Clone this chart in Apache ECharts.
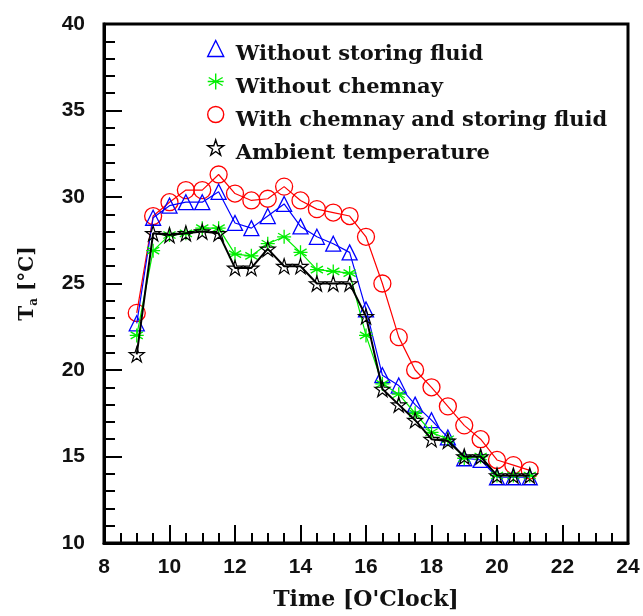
<!DOCTYPE html>
<html>
<head>
<meta charset="utf-8">
<script src="https://cdn.jsdelivr.net/npm/echarts@6/dist/echarts.min.js"></script>
<style>html,body{margin:0;padding:0;background:#fff}#c{width:643px;height:616px}</style>
</head>
<body>
<div id="c"></div>
<script>
const times = [9,9.5,10,10.5,11,11.5,12,12.5,13,13.5,14,14.5,15,15.5,16,16.5,17,17.5,18,18.5,19,19.5,20,20.5,21];
const withoutStoring = [22.7,28.8,29.5,29.7,29.7,30.3,28.5,28.2,28.9,29.6,28.3,27.7,27.3,26.8,23.5,19.7,19.1,18.0,17.1,16.1,14.9,14.8,13.8,13.8,13.8];
const withoutChemnay = [22.0,26.9,27.8,27.9,28.2,28.2,26.7,26.6,27.3,27.7,26.8,25.8,25.7,25.6,22.0,19.2,18.6,17.5,16.4,16.0,14.9,15.0,13.9,13.9,13.9];
const withBoth = [23.3,28.9,29.7,30.4,30.4,31.3,30.2,29.8,29.9,30.6,29.8,29.3,29.1,28.9,27.7,25.0,21.9,20.0,19.0,17.9,16.8,16.0,14.8,14.5,14.2];
const ambient = [20.9,27.9,27.8,27.9,28.0,27.9,25.9,25.9,27.0,26.0,26.0,25.0,25.0,25.0,23.1,18.9,18.0,17.1,16.0,15.9,15.0,15.0,13.9,13.9,13.9];
const xTicks = [8,10,12,14,16,18,20,22,24];
const yTicks = [10,15,20,25,30,35,40];
const names = ['Without storing fluid','Without chemnay','With chemnay and storing fluid','Ambient temperature'];

const pairs = arr => times.map((t,i)=>[t,arr[i]]);
const starPath = 'path://M0,-1L0.2233,-0.3074L0.9511,-0.309L0.3614,0.1174L0.5878,0.809L0,0.38L-0.5878,0.809L-0.3614,0.1174L-0.9511,-0.309L-0.2233,-0.3074Z';
const asterPath = 'path://M0,-1L0,1M-0.87,-0.5L0.87,0.5M-0.87,0.5L0.87,-0.5M-1,0L1,0';
const serif = '"DejaVu Serif", serif';
const sans = '"Liberation Sans", Arial, sans-serif';

const chart = echarts.init(document.getElementById('c'));
function mk(name, data, color, symbol, size, lw, bw, z){
  return {
    name, type:'line', data: pairs(data), symbol, symbolSize:size, z,
    lineStyle:{color, width:lw},
    itemStyle:{color:'rgba(0,0,0,0)', borderColor:color, borderWidth:bw},
    emphasis:{disabled:true}, animation:false
  };
}
chart.setOption({
  animation:false,
  grid:{left:104,right:15,top:24,bottom:69,show:true,borderColor:'#000',borderWidth:3,backgroundColor:'#fff'},
  legend:{
    orient:'vertical', left:202, top:27, itemWidth:16, itemHeight:16, itemGap:0,
    formatter: n => '{t|' + n + '}',
    textStyle:{fontFamily:serif, fontWeight:'bold', fontSize:21, color:'#111',
      rich:{t:{fontFamily:serif, fontWeight:'bold', fontSize:21, lineHeight:20, color:'#111', padding:[12,0,0,7]}}},
    data:[
      {name:names[0], icon:'triangle', itemStyle:{color:'rgba(0,0,0,0)', borderColor:'#0000ff', borderWidth:1.4}},
      {name:names[1], icon:asterPath, itemStyle:{color:'rgba(0,0,0,0)', borderColor:'#00ee00', borderWidth:1.4}},
      {name:names[2], icon:'circle', itemStyle:{color:'rgba(0,0,0,0)', borderColor:'#ff0000', borderWidth:1.4}},
      {name:names[3], icon:starPath, itemStyle:{color:'rgba(0,0,0,0)', borderColor:'#000', borderWidth:1.4}}
    ]
  },
  xAxis:{
    type:'value', min:8, max:24, interval:2,
    name:"Time [O'Clock]", nameLocation:'middle', nameGap:46,
    nameTextStyle:{fontFamily:serif, fontWeight:'bold', fontSize:22, color:'#111'},
    axisLine:{lineStyle:{color:'#000',width:3}},
    axisTick:{inside:true, length:18, lineStyle:{color:'#000',width:2}},
    minorTick:{show:true, splitNumber:4, length:10, lineStyle:{color:'#000',width:2}},
    splitLine:{show:false},
    axisLabel:{margin:14, fontFamily:sans, fontWeight:'bold', fontSize:21, color:'#111',
      formatter:v=>xTicks.includes(v)?String(v):''}
  },
  yAxis:{
    type:'value', min:10, max:40, interval:5,
    name:'T{sub|a} [°C]', nameLocation:'middle', nameGap:64,
    nameTextStyle:{fontFamily:serif, fontWeight:'bold', fontSize:20, color:'#111',
      rich:{sub:{fontFamily:serif, fontWeight:'bold', fontSize:12, color:'#111', padding:[12,0,0,0]}}},
    axisLine:{lineStyle:{color:'#000',width:3}},
    axisTick:{inside:true, length:18, lineStyle:{color:'#000',width:2}},
    minorTick:{show:true, splitNumber:5, length:11, lineStyle:{color:'#000',width:2}},
    splitLine:{show:false},
    axisLabel:{margin:19, fontFamily:sans, fontWeight:'bold', fontSize:21, color:'#111',
      formatter:v=>yTicks.includes(v)?String(v):''}
  },
  series:[
    mk(names[2], withBoth, '#ff0000', 'circle', 17, 1.2, 1.3, 2),
    mk(names[0], withoutStoring, '#0000ff', 'triangle', 15, 1.2, 1.3, 3),
    mk(names[1], withoutChemnay, '#00ee00', asterPath, 14, 1.2, 1.3, 4),
    mk(names[3], ambient, '#000000', starPath, 15, 2, 1.2, 5)
  ]
});
</script>
</body>
</html>
